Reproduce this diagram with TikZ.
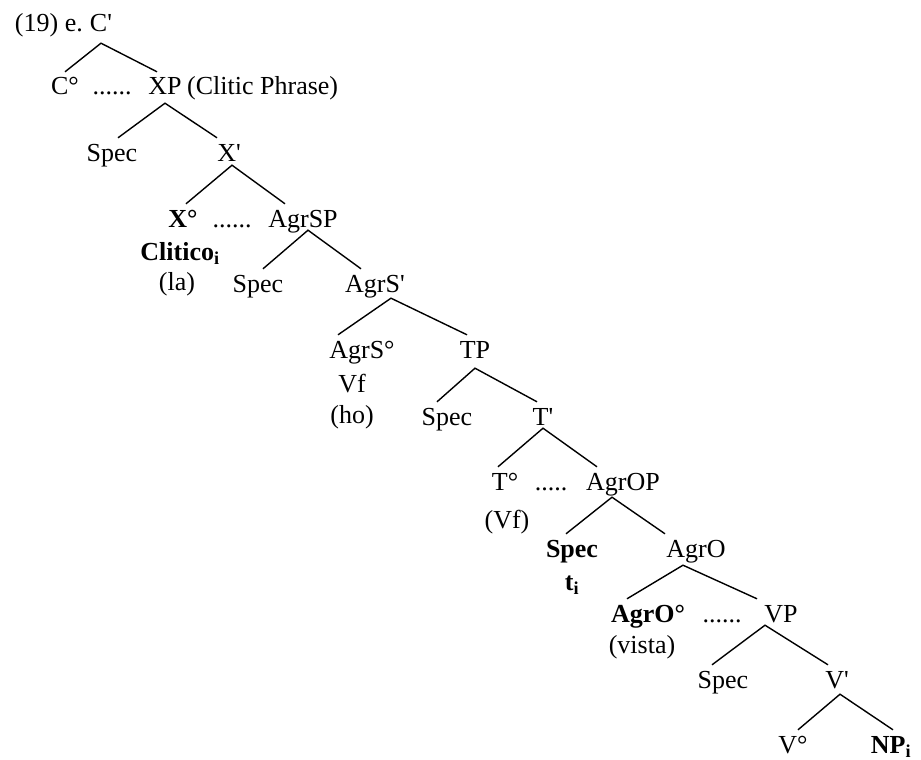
\documentclass[tikz,border=0pt]{standalone}
\usepackage{fontspec}
\setmainfont{Liberation Serif}
\begin{document}
\begin{tikzpicture}[x=1pt,y=-1pt,
  every node/.style={font=\fontsize{26}{31}\selectfont, inner sep=0pt, anchor=base},
  lab/.style={text height=23pt, text depth=6pt},
  edge/.style={line width=1.4pt}]
\useasboundingbox (0,0) rectangle (921,760);
% labels
\node[lab] (c1) at (101,32) {C\textquotesingle};
\node[anchor=base east] (ex) at (83,32) {(19) e.};
\node[lab] (c0) at (65,95) {C°};
\node (d1) at (112,95) {......};
\node[lab] (xp) at (165,95) {XP};
\node[anchor=base west] (cp) at (187,95) {(Clitic Phrase)};
\node[lab] (s1) at (112,161) {Spec};
\node[lab] (x1) at (229,161) {X\textquotesingle};
\node[lab] (x0) at (183,227) {\textbf{X°}};
\node (d2) at (232,227) {......};
\node[lab] (agrsp) at (303,227) {AgrSP};
\node (cl) at (180,260) {\textbf{Clitico\textsubscript{i}}};
\node (la) at (177,290) {(la)};
\node[lab] (s2) at (258,292) {Spec};
\node[lab] (agrs1) at (375,292) {AgrS\textquotesingle};
\node[lab] (agrs0) at (362,358) {AgrS°};
\node (vf1) at (352,392) {Vf};
\node (ho) at (352,423) {(ho)};
\node[lab] (tp) at (475,358) {TP};
\node[lab] (s3) at (447,425) {Spec};
\node[lab] (t1) at (543,425) {T\textquotesingle};
\node[lab] (t0) at (505,490) {T°};
\node (d3) at (551,490) {.....};
\node[lab] (agrop) at (623,490) {AgrOP};
\node (vf2) at (507,528) {(Vf)};
\node[lab] (s4) at (572,557) {\textbf{Spec}};
\node (ti) at (572,590) {\textbf{t\textsubscript{i}}};
\node[lab] (agro) at (696,557) {AgrO};
\node[lab] (agro0) at (648,622) {\textbf{AgrO°}};
\node (d4) at (722,622) {......};
\node[lab] (vp) at (781,622) {VP};
\node (vista) at (642,653) {(vista)};
\node[lab] (s5) at (723,688) {Spec};
\node[lab] (v1) at (837,688) {V\textquotesingle};
\node[lab] (v0) at (793,753) {V°};
\node[lab] (np) at (891,753) {\textbf{NP\textsubscript{i}}};
% edges
\draw[edge] (c0.north) -- ([yshift=-5pt]c1.south) -- ([xshift=-8pt]xp.north);
\draw[edge] ([xshift=6pt]s1.north) -- ([yshift=-2pt]xp.south) -- ([xshift=-12pt]x1.north);
\draw[edge] ([xshift=3pt]x0.north) -- ([xshift=3pt,yshift=2pt]x1.south) -- ([xshift=-18pt]agrsp.north);
\draw[edge] ([xshift=5pt]s2.north) -- ([xshift=5pt,yshift=3pt]agrsp.south) -- ([xshift=-14pt]agrs1.north);
\draw[edge] ([xshift=-24pt]agrs0.north) -- ([xshift=16pt]agrs1.south) -- ([xshift=-8pt]tp.north);
\draw[edge] ([xshift=-10pt]s3.north) -- ([yshift=-4pt]tp.south) -- ([xshift=-6pt]t1.north);
\draw[edge] ([xshift=-7pt]t0.north) -- ([yshift=3pt]t1.south) -- ([xshift=-26pt]agrop.north);
\draw[edge] ([xshift=-6pt]s4.north) -- ([xshift=-11pt,yshift=-1pt]agrop.south) -- ([xshift=-31pt]agro.north);
\draw[edge] ([xshift=-21pt]agro0.north) -- ([xshift=-13pt,yshift=-2pt]agro.south) -- ([xshift=-24pt]vp.north);
\draw[edge] ([xshift=-11pt]s5.north) -- ([xshift=-16pt,yshift=3pt]vp.south) -- ([xshift=-9pt]v1.north);
\draw[edge] ([xshift=5pt]v0.north) -- ([xshift=3pt]v1.south) -- ([xshift=2pt]np.north);
\end{tikzpicture}
\end{document}
